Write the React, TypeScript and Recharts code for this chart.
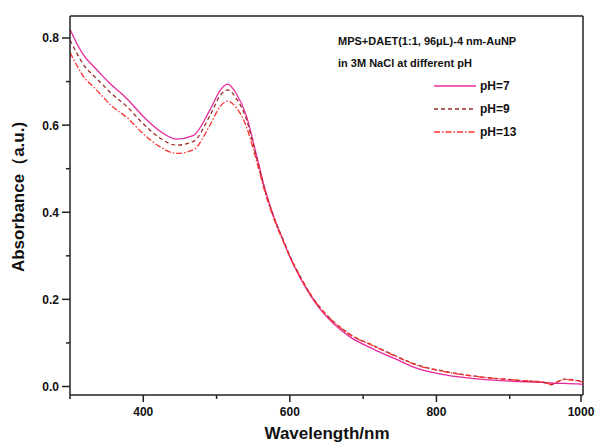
import { LineChart, Line, XAxis, YAxis, Legend, ReferenceLine, Label } from "recharts";

// wavelength (nm) and absorbance
const wavelengths = [300, 310, 320, 332, 345, 355, 378, 400, 423, 445, 468, 491, 505, 515, 527, 541, 550, 559, 564, 577, 591, 600, 614, 627, 641, 659, 682, 714, 750, 768, 814, 859, 905, 950, 955, 975, 1000];
const ph7 = [0.82, 0.785, 0.757, 0.735, 0.712, 0.695, 0.66, 0.62, 0.586, 0.568, 0.576, 0.635, 0.68, 0.694, 0.672, 0.62, 0.562, 0.5, 0.466, 0.395, 0.335, 0.298, 0.25, 0.212, 0.178, 0.145, 0.114, 0.086, 0.059, 0.045, 0.026, 0.017, 0.012, 0.009, 0.008, 0.007, 0.005];
const ph9 = [0.795, 0.763, 0.735, 0.714, 0.692, 0.675, 0.642, 0.603, 0.57, 0.554, 0.562, 0.622, 0.668, 0.681, 0.661, 0.612, 0.556, 0.495, 0.463, 0.394, 0.336, 0.3, 0.253, 0.215, 0.182, 0.15, 0.12, 0.094, 0.066, 0.053, 0.034, 0.0225, 0.015, 0.008, 0.004, 0.017, 0.011];
const ph13 = [0.767, 0.735, 0.708, 0.688, 0.665, 0.647, 0.617, 0.58, 0.55, 0.535, 0.543, 0.6, 0.643, 0.655, 0.64, 0.595, 0.545, 0.49, 0.458, 0.39, 0.333, 0.298, 0.252, 0.214, 0.181, 0.149, 0.119, 0.093, 0.065, 0.052, 0.033, 0.022, 0.015, 0.009, 0.005, 0.016, 0.01];

const xTicks = [300, 400, 500, 600, 700, 800, 900, 1000];
const yTicks = [0, 0.1, 0.2, 0.3, 0.4, 0.5, 0.6, 0.7, 0.8];

const series = [
    { key: "ph7", name: "pH=7", color: "#e8289c", dash: undefined },
    { key: "ph9", name: "pH=9", color: "#9c2a2a", dash: "4 3" },
    { key: "ph13", name: "pH=13", color: "#ff3030", dash: "6 2 1.5 2" },
];

const data = wavelengths.map((wl, i) => ({ wl, ph7: ph7[i], ph9: ph9[i], ph13: ph13[i] }));

const FONT = "Arial, 'Liberation Sans', sans-serif";
const AXIS = "#222";

const XTick = (props: any) => {
    const { x, y, payload } = props;
    const major = payload.value % 200 === 0;
    return (
        <g>
            <line x1={x} x2={x} y1={y} y2={y + (major ? 7 : 4)} stroke={AXIS} strokeWidth={1.5} />
            {major && (
                <text x={x} y={y + 21} textAnchor="middle" fontSize={12} fontWeight="bold" fontFamily={FONT} fill="#111">
                    {payload.value}
                </text>
            )}
        </g>
    );
};

const YTick = (props: any) => {
    const { x, y, payload } = props;
    const major = Math.round(payload.value * 10) % 2 === 0;
    return (
        <g>
            <line x1={x - (major ? 8 : 4)} x2={x} y1={y} y2={y} stroke={AXIS} strokeWidth={1.5} />
            {major && (
                <text x={x - 11} y={y + 4.5} textAnchor="end" fontSize={12} fontWeight="bold" fontFamily={FONT} fill="#111">
                    {payload.value.toFixed(1)}
                </text>
            )}
        </g>
    );
};

const LegendBox = () => (
    <div style={{ fontFamily: FONT, fontWeight: "bold", color: "#111" }}>
        <div style={{ fontSize: 11, lineHeight: "22px" }}>MPS+DAET(1:1, 96μL)-4 nm-AuNP</div>
        <div style={{ fontSize: 11, lineHeight: "22px" }}>in 3M NaCl at different pH</div>
        {series.map((s) => (
            <div key={s.key} style={{ display: "flex", alignItems: "center", height: 23, marginLeft: 96 }}>
                <svg width={42} height={10}>
                    <line x1={0} x2={42} y1={5} y2={5} stroke={s.color} strokeWidth={1.3} strokeDasharray={s.dash} />
                </svg>
                <span style={{ fontSize: 12, marginLeft: 4 }}>{s.name}</span>
            </div>
        ))}
    </div>
);

export default function App() {
    return (
        <div style={{ position: "absolute", left: 0, top: 0, background: "#fff" }}>
            <LineChart
                width={597}
                height={446}
                data={data}
                margin={{ top: 16, right: 14, left: 0, bottom: 0 }}
            >
                <XAxis
                    dataKey="wl"
                    type="number"
                    domain={[300, 1000]}
                    ticks={xTicks}
                    allowDataOverflow
                    height={51}
                    tickSize={0}
                    tickMargin={0}
                    tick={<XTick />}
                    stroke={AXIS}
                    strokeWidth={1.5}
                >
                    <Label
                        content={() => (
                            <text x={327} y={439} textAnchor="middle" fontSize={17} fontWeight="bold" fontFamily={FONT} fill="#111">
                                Wavelength/nm
                            </text>
                        )}
                    />
                </XAxis>
                <YAxis
                    type="number"
                    domain={[-0.0195, 0.8505]}
                    ticks={yTicks}
                    allowDataOverflow
                    width={70}
                    tickSize={0}
                    tickMargin={0}
                    tick={<YTick />}
                    stroke={AXIS}
                    strokeWidth={1.5}
                >
                    <Label
                        content={() => (
                            <text x={24} y={197} transform="rotate(-90 24 197)" textAnchor="middle" fontSize={17} fontWeight="bold" fontFamily={FONT} fill="#111">
                                Absorbance（a.u.)
                            </text>
                        )}
                    />
                </YAxis>
                <ReferenceLine y={0.8505} stroke={AXIS} strokeWidth={1.5} />
                <ReferenceLine x={1000} stroke={AXIS} strokeWidth={1.5} />
                <Legend
                    layout="horizontal"
                    verticalAlign="middle"
                    align="center"
                    content={<LegendBox />}
                    wrapperStyle={{ left: 338, top: 30, width: 250 }}
                />
                {series.map((s) => (
                    <Line
                        key={s.key}
                        dataKey={s.key}
                        name={s.name}
                        type="monotone"
                        stroke={s.color}
                        strokeWidth={1.3}
                        strokeDasharray={s.dash}
                        dot={false}
                        activeDot={false}
                        isAnimationActive={false}
                    />
                ))}
            </LineChart>
        </div>
    );
}
